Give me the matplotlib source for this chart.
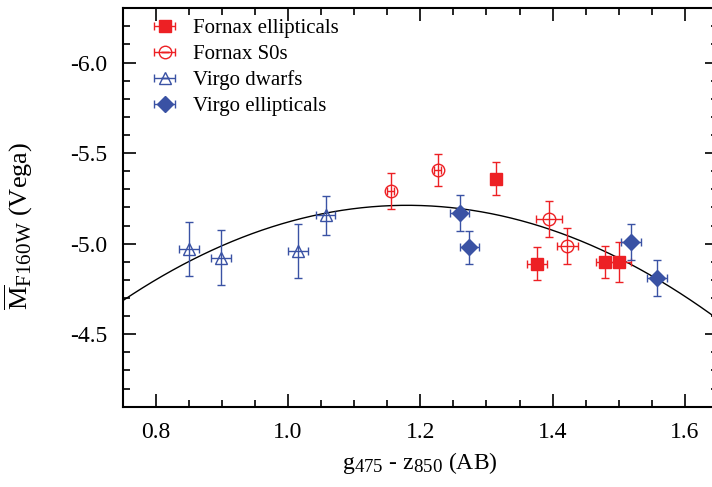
import numpy as np
import matplotlib
matplotlib.use('Agg')
import matplotlib.pyplot as plt
import matplotlib._mathtext as mathtext
from matplotlib.ticker import MultipleLocator, FormatStrFormatter
from matplotlib.legend_handler import HandlerErrorbar

plt.rcParams['font.family'] = 'serif'
plt.rcParams['font.serif'] = ['Liberation Serif', 'DejaVu Serif']
plt.rcParams['mathtext.fontset'] = 'custom'
plt.rcParams['mathtext.rm'] = 'Liberation Serif'
plt.rcParams['mathtext.it'] = 'Liberation Serif:italic'
plt.rcParams['axes.unicode_minus'] = False
mathtext.SHRINK_FACTOR = 0.8  # subscripts a bit larger, as in the original

# Fornax ellipticals
fe_x = [1.3145, 1.3765, 1.479, 1.500]
fe_y = [-5.359, -4.890, -4.898, -4.898]
fe_xerr = [0.005, 0.015, 0.014, 0.019]
fe_yerr = [0.09, 0.09, 0.09, 0.11]

# Fornax S0s
fs_x = [1.155, 1.226, 1.3946, 1.4224]
fs_y = [-5.290, -5.408, -5.138, -4.987]
fs_xerr = [0.005, 0.005, 0.019, 0.016]
fs_yerr = [0.10, 0.09, 0.10, 0.10]

# Virgo dwarfs
vd_x = [0.850, 0.899, 1.015, 1.057]
vd_y = [-4.972, -4.923, -4.959, -5.156]
vd_xerr = [0.015, 0.015, 0.015, 0.014]
vd_yerr = [0.15, 0.15, 0.15, 0.11]

# Virgo ellipticals
ve_x = [1.2596, 1.2742, 1.518, 1.5584]
ve_y = [-5.169, -4.980, -5.009, -4.810]
ve_xerr = [0.014, 0.014, 0.015, 0.015]
ve_yerr = [0.10, 0.09, 0.10, 0.10]

# quadratic calibration: y = c0 + c2 * (x - x0)^2
fit_x0 = 1.18
fit_c0 = -5.212
fit_c2 = 2.85

red = '#ed2024'
blue = '#3a52a4'

fig = plt.figure(figsize=(7.12, 4.87), dpi=100)
ax = fig.add_axes([0.1723, 0.1649, 0.8361, 0.8181])

xx = np.linspace(0.75, 1.65, 300)
ax.plot(xx, fit_c0 + fit_c2 * (xx - fit_x0) ** 2, color='black', lw=1.0, zorder=1)

ekw = dict(elinewidth=1.0, capsize=3, capthick=1.0, ls='none', zorder=3)
h1 = ax.errorbar(fe_x, fe_y, xerr=fe_xerr, yerr=fe_yerr, fmt='s', color=red,
                 ms=8, label='Fornax ellipticals', **ekw)
h2 = ax.errorbar(fs_x, fs_y, xerr=fs_xerr, yerr=fs_yerr, fmt='o', color=red,
                 mfc='none', mec=red, ms=9, mew=1.0, label='Fornax S0s', **ekw)
h3 = ax.errorbar(vd_x, vd_y, xerr=vd_xerr, yerr=vd_yerr, fmt='^', color=blue,
                 mfc='none', mec=blue, ms=9, mew=1.0, label='Virgo dwarfs', **ekw)
h4 = ax.errorbar(ve_x, ve_y, xerr=ve_xerr, yerr=ve_yerr, fmt='D', color=blue,
                 ms=8, label='Virgo ellipticals', **ekw)

ax.set_xlim(0.75, 1.65)
ax.set_ylim(-4.1, -6.3)

ax.xaxis.set_major_locator(MultipleLocator(0.2))
ax.xaxis.set_minor_locator(MultipleLocator(0.05))
ax.yaxis.set_major_locator(MultipleLocator(0.5))
ax.yaxis.set_minor_locator(MultipleLocator(0.1))
ax.xaxis.set_major_formatter(FormatStrFormatter('%.1f'))
ax.yaxis.set_major_formatter(FormatStrFormatter('%.1f'))
ax.tick_params(which='both', direction='in', top=True, right=True, width=1.2)
ax.tick_params(which='major', length=9.5, labelsize=17, pad=11)
ax.tick_params(which='minor', length=5)
for sp in ax.spines.values():
    sp.set_linewidth(1.5)

ax.set_xlabel(r'g$_{475}$ - z$_{850}$ (AB)', fontsize=17, labelpad=5)
ax.set_ylabel(r'$\overline{\mathrm{M}}_{\mathrm{F160W}}$ (Vega)', fontsize=19)
ax.yaxis.set_label_coords(-0.148, 0.455)

hm = HandlerErrorbar(xerr_size=0.5, yerr_size=0.0)
ax.legend(handles=[h1, h2, h3, h4], loc='upper left', bbox_to_anchor=(0.02, 1.01),
          frameon=False, fontsize=15, handlelength=1.5, handletextpad=0.6,
          labelspacing=0.3, borderaxespad=0.3,
          handler_map={h1: hm, h2: hm, h3: hm, h4: hm})

fig.savefig('out.png', dpi=100)
